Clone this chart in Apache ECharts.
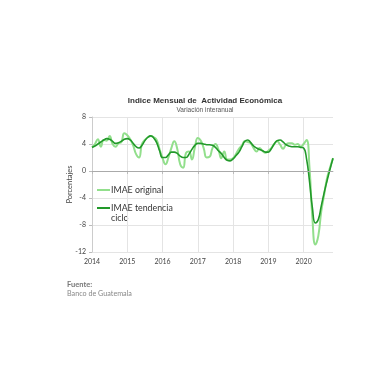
<!DOCTYPE html>
<html><head><meta charset="utf-8">
<script src="https://cdn.jsdelivr.net/npm/echarts@6/dist/echarts.min.js"></script>
<style>html,body{margin:0;padding:0;background:#fff}#c{width:380px;height:380px}</style>
</head><body><div id="c"></div>
<script>
const startYear = 2014;
const yearLabels = ['2014','2015','2016','2017','2018','2019','2020'];
const imaeOriginal = [
 3.5,4.0,4.7,3.6,4.6,4.5,5.2,4.0,3.6,4.1,4.3,5.6,
 5.3,4.7,3.8,2.5,2.0,4.0,4.6,5.0,5.2,5.0,4.6,3.2,
 1.9,1.0,2.0,3.4,4.4,3.3,1.0,0.5,2.7,2.9,1.7,3.5,
 4.9,4.5,3.4,2.0,2.1,3.4,4.0,3.2,1.9,2.9,1.7,1.7,
 1.9,2.5,3.3,3.8,4.4,4.3,4.1,3.4,2.9,3.4,3.0,2.7,
 3.0,3.4,4.0,4.4,3.9,3.3,3.9,4.1,4.1,3.9,4.0,3.6,
 4.0,4.6,0.5,-7.0,-10.9,-9.6,-6.0,-3.5,-1.0,0.5,1.9
];
const imaeTendencia = [
 3.5,3.7,4.0,4.3,4.6,4.8,4.7,4.4,4.1,4.2,4.4,4.7,
 4.8,4.6,4.1,3.6,3.4,3.8,4.5,5.0,5.2,4.9,4.2,3.0,
 2.0,2.0,2.4,2.8,2.8,2.6,2.2,2.0,2.0,2.5,3.2,3.8,
 4.1,4.1,4.0,3.9,3.9,3.8,3.5,3.0,2.6,2.0,1.6,1.5,
 1.8,2.3,2.8,3.6,4.4,4.6,4.2,3.7,3.4,3.2,3.0,2.8,
 2.8,3.3,4.0,4.5,4.6,4.3,3.9,3.7,3.6,3.6,3.6,3.5,
 3.4,1.8,-1.5,-5.5,-7.7,-7.2,-5.2,-3.2,-1.4,0.3,1.9
];
const months = imaeOriginal.map((_, i) => (startYear + Math.floor(i/12)) + '-' + String(i%12+1).padStart(2,'0'));

const chart = echarts.init(document.getElementById('c'), null, {renderer:'canvas'});
const lab = {fontFamily:'Lato, "DejaVu Sans", sans-serif', fontSize:7, color:'#444'};
const LIGHT = '#92df8c', DARK = '#22992a';
chart.setOption({
  animation:false,
  title:[
    {text:'Indice Mensual de  Actividad Económica', left:205, top:97, textAlign:'center', padding:0,
     textStyle:{fontFamily:'"Liberation Sans", Arial, sans-serif', fontSize:8, fontWeight:'bold', color:'#333'}},
    {text:'Variación interanual', left:205, top:107, textAlign:'center', padding:0,
     textStyle:{fontFamily:'"Liberation Sans", Arial, sans-serif', fontSize:6.5, fontWeight:'normal', color:'#555'}},
    {text:'Fuente:', left:67, top:281, padding:0,
     textStyle:{fontFamily:'Lato, sans-serif', fontSize:7.5, fontWeight:'bold', color:'#777'}},
    {text:'Banco de Guatemala', left:67, top:290, padding:0,
     textStyle:{fontFamily:'Lato, sans-serif', fontSize:7.2, fontWeight:'normal', color:'#888'}}
  ],
  grid:{left:92, right:47, top:117, bottom:128, containLabel:false},
  legend:{
    orient:'vertical', left:97, top:184, padding:0, itemWidth:13, itemHeight:2, itemGap:6,
    icon:'rect',
    data:['IMAE original','IMAE tendencia ciclo'],
    formatter:n => n === 'IMAE tendencia ciclo' ? 'IMAE tendencia' : n,
    textStyle:{fontFamily:'Lato, "Open Sans", sans-serif', fontSize:8.8, color:'#333', lineHeight:12, padding:[0,0,0,-4]}
  },
  graphic:[
    {type:'text', left:111, top:214, silent:true,
     style:{text:'ciclo', font:'8.8px Lato, "Open Sans", sans-serif', fill:'#333'}}
  ],
  xAxis:{
    type:'category', data:months, boundaryGap:false,
    axisLine:{show:true, lineStyle:{color:'#bbb'}},
    axisTick:{show:true, interval:(i)=> i%12===0, length:3, lineStyle:{color:'#bbb'}},
    axisLabel:Object.assign({interval:(i)=> i%12===0, formatter:(v,i)=> yearLabels[Math.floor(i/12)] , margin:6, fontSize:7.5}, lab),
    splitLine:{show:true, interval:(i)=> i%12===0, lineStyle:{color:'#e4e4e4', width:1}}
  },
  yAxis:{
    type:'value', min:-12, max:8, interval:4,
    name:'Porcentajes', nameLocation:'middle', nameGap:18, nameRotate:90, nameMoveOverlap:false,
    nameTextStyle:{fontFamily:'Lato, sans-serif', fontSize:7.5, color:'#444'},
    axisLine:{show:true, lineStyle:{color:'#ccc'}},
    axisTick:{show:true, length:3, lineStyle:{color:'#bbb'}},
    axisLabel:Object.assign({margin:6}, lab),
    splitLine:{show:true, lineStyle:{color:'#e4e4e4'}}
  },
  series:[
    {name:'IMAE original', type:'line', data:imaeOriginal, smooth:true, showSymbol:false, symbol:'none',
     lineStyle:{color:LIGHT, width:2}, itemStyle:{color:LIGHT}, z:2},
    {name:'IMAE tendencia ciclo', type:'line', data:imaeTendencia, smooth:true, showSymbol:false, symbol:'none',
     lineStyle:{color:DARK, width:1.6}, itemStyle:{color:DARK}, z:3,
     markLine:{silent:true, symbol:'none', label:{show:false}, lineStyle:{color:'#aaa', width:1, type:'solid'}, data:[{yAxis:0}]}}
  ]
});
</script></body></html>
